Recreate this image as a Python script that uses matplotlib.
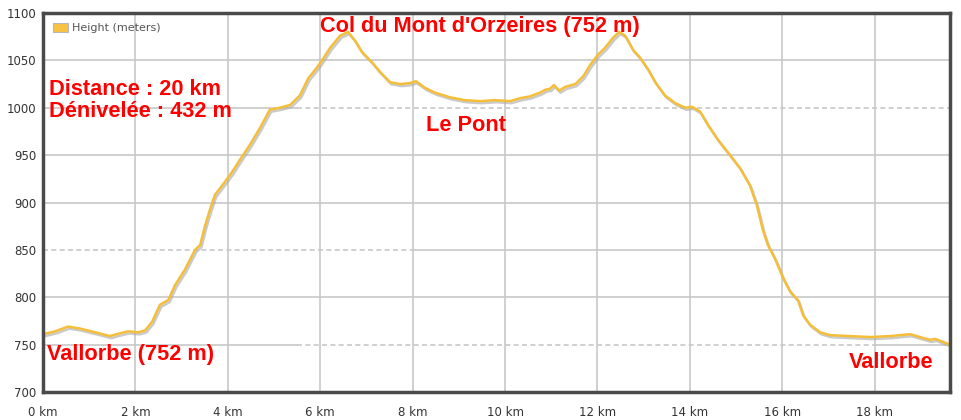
import matplotlib
matplotlib.use("Agg")
import matplotlib.pyplot as plt
import matplotlib.patheffects as pe
from matplotlib.patches import Patch

# distance (km) and height (m)
distance_km = [0.00, 0.26, 0.54, 0.80, 1.13, 1.45, 1.67, 1.84, 2.06, 2.21, 2.36, 2.53,
               2.71, 2.86, 3.07, 3.29, 3.40, 3.51, 3.61, 3.72, 3.94, 4.09, 4.26, 4.48,
               4.70, 4.91, 5.13, 5.35, 5.56, 5.74, 5.89, 6.04, 6.21, 6.43, 6.60, 6.75,
               6.90, 7.12, 7.29, 7.51, 7.73, 7.94, 8.07, 8.27, 8.48, 8.81, 9.13, 9.46,
               9.78, 10.11, 10.32, 10.54, 10.76, 10.87, 10.97, 11.06, 11.17, 11.30, 11.52,
               11.69, 11.84, 12.01, 12.16, 12.34, 12.47, 12.60, 12.77, 12.92, 13.10, 13.25,
               13.46, 13.68, 13.90, 14.05, 14.22, 14.39, 14.61, 14.87, 15.09, 15.30, 15.45,
               15.58, 15.69, 15.84, 16.02, 16.17, 16.34, 16.45, 16.60, 16.82, 17.03, 17.47,
               17.90, 18.33, 18.55, 18.77, 18.98, 19.20, 19.31, 19.42, 19.63]
height_m = [761, 764, 769, 767, 763, 759, 762, 764, 763, 765, 774, 792,
            797, 813, 829, 850, 855, 876, 892, 908, 922, 932, 945, 961,
            979, 998, 1000, 1003, 1013, 1031, 1040, 1050, 1063, 1076, 1080, 1071,
            1059, 1048, 1038, 1027, 1025, 1026, 1028, 1021, 1016, 1011, 1008, 1007,
            1008, 1007, 1010, 1012, 1016, 1019, 1020, 1024, 1018, 1022, 1025,
            1033, 1045, 1056, 1063, 1074, 1080, 1076, 1061, 1053, 1040, 1027,
            1013, 1005, 1000, 1001, 996, 982, 966, 950, 936, 918, 897,
            871, 855, 841, 820, 806, 797, 781, 771, 763, 760, 759,
            758, 759, 760, 761, 758, 755, 756, 754, 750]

x_ticks = [0, 2, 4, 6, 8, 10, 12, 14, 16, 18]
x_tick_labels = ["0 km", "2 km", "4 km", "6 km", "8 km", "10 km", "12 km", "14 km", "16 km", "18 km"]
y_ticks = [700, 750, 800, 850, 900, 950, 1000, 1050, 1100]

fig = plt.figure(figsize=(9.61, 4.2), dpi=100)
ax = fig.add_axes([43/961, 28/420, 907/961, 379/420])
ax.set_xlim(0, 19.63)
ax.set_ylim(700, 1100)

grid_c = "#c8c8c8"
for xt in x_ticks[1:]:
    ax.axvline(xt, color=grid_c, lw=1.2, zorder=1)
for yt in y_ticks[1:-1]:
    if yt == 850:
        ax.plot([0, 8], [yt, yt], color=grid_c, lw=1.2, ls=(0, (3, 2)), zorder=1)
        ax.plot([8, 19.63], [yt, yt], color=grid_c, lw=1.2, zorder=1)
    elif yt == 1000:
        ax.plot([0, 5.5], [yt, yt], color=grid_c, lw=1.2, zorder=1)
        ax.plot([5.5, 19.63], [yt, yt], color=grid_c, lw=1.2, ls=(0, (3, 2)), zorder=1)
    elif yt == 750:
        ax.plot([0, 5.5], [yt, yt], color=grid_c, lw=1.2, zorder=1)
        ax.plot([5.5, 18.05], [yt, yt], color=grid_c, lw=1.2, ls=(0, (3, 2)), zorder=1)
        ax.plot([18.05, 19.63], [yt, yt], color=grid_c, lw=1.2, zorder=1)
    else:
        ax.axhline(yt, color=grid_c, lw=1.2, zorder=1)

ax.plot(distance_km, height_m, color="#F5BE38", lw=1.8, zorder=3,
        path_effects=[pe.SimpleLineShadow(offset=(1, -1.5), shadow_color="#a8a8a8", alpha=0.6),
                      pe.Normal()])

ax.set_xticks(x_ticks)
ax.set_xticklabels(x_tick_labels)
ax.set_yticks(y_ticks)
ax.tick_params(length=0, labelsize=8.5, labelcolor="#333333", pad=10)
ax.tick_params(axis="y", pad=5)
for lab in ax.get_xticklabels() + ax.get_yticklabels():
    lab.set_family("DejaVu Sans")
for sp in ax.spines.values():
    sp.set_color("#4a4a4a")
    sp.set_linewidth(2.5)
    sp.set_zorder(5)

leg = ax.legend(handles=[Patch(facecolor="#F8C244", edgecolor="#b8b8b8", lw=0.8, label="Height (meters)")],
                loc="upper left", frameon=False, fontsize=8, handlelength=1.35, handleheight=0.9,
                handletextpad=0.4, borderaxespad=0.5, labelcolor="#555555")

red = "#FF0000"
fkw = dict(family="Liberation Sans", fontweight="bold", color=red, fontsize=15.7,
           va="baseline", ha="left", zorder=6)
fig.text(320/961, 1 - 32/420, "Col du Mont d'Orzeires (752 m)", **fkw)
fig.text(49/961, 1 - 95/420, "Distance : 20 km", **fkw)
fig.text(49/961, 1 - 117/420, "Dénivelée : 432 m", **fkw)
fig.text(426/961, 1 - 131/420, "Le Pont", **fkw)
fig.text(47/961, 1 - 360/420, "Vallorbe (752 m)", **fkw)
fig.text(849/961, 1 - 368/420, "Vallorbe", **fkw)

fig.savefig("out.png", dpi=100, facecolor="white")
